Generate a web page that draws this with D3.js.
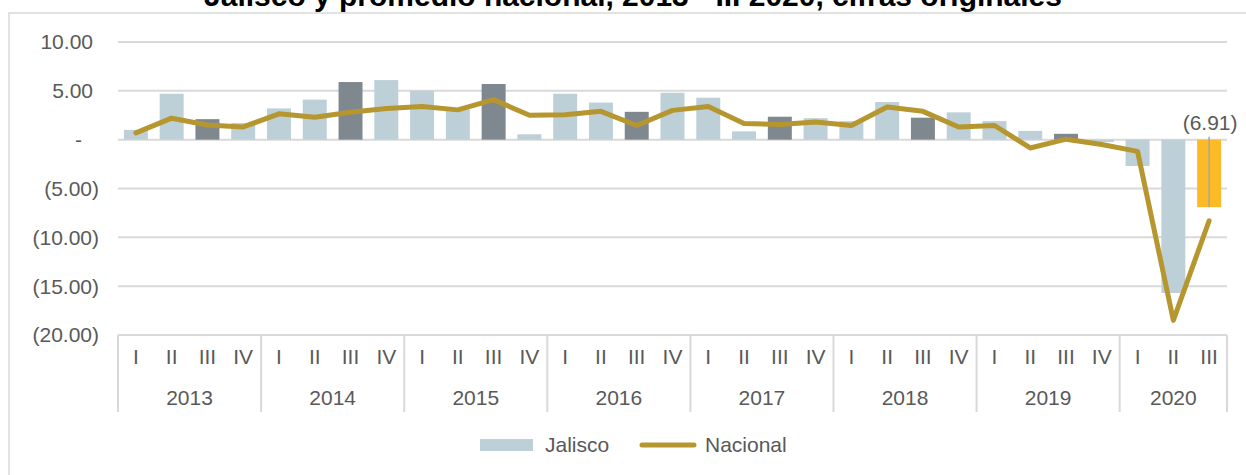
<!DOCTYPE html>
<html>
<head>
<meta charset="utf-8">
<script src="https://cdn.jsdelivr.net/npm/d3@7"></script>
<style>
  body { margin: 0; background: #fff; }
  svg text { font-family: "Liberation Sans", Arial, sans-serif; fill: #595959; }
</style>
</head>
<body>
<div id="chart"></div>
<script>
var titleText = "Jalisco y promedio nacional, 2013 - III 2020, cifras originales";

var years = ["2013", "2014", "2015", "2016", "2017", "2018", "2019", "2020"];
var quarterNames = ["I", "II", "III", "IV"];
// quarters published per year
var quartersPerYear = [4, 4, 4, 4, 4, 4, 4, 3];

var jalisco = [1.0, 4.7, 2.1, 1.7,  3.2, 4.1, 5.9, 6.1,  5.0, 3.1, 5.7, 0.55,
               4.7, 3.8, 2.85, 4.8,  4.3, 0.85, 2.35, 2.2,  1.9, 3.85, 2.25, 2.8,
               1.9, 0.9, 0.6, -0.25,  -2.7, -15.7, -6.91];
var nacional = [0.7, 2.2, 1.5, 1.3,  2.65, 2.3, 2.8, 3.2,  3.4, 3.05, 4.1, 2.5,
                2.55, 2.9, 1.45, 3.0,  3.4, 1.65, 1.55, 1.8,  1.45, 3.35, 2.9, 1.3,
                1.45, -0.85, 0.05, -0.5,  -1.2, -18.5, -8.3];

var yTicks = [-20, -15, -10, -5, 0, 5, 10];
var yTickLabels = ["(20.00)", "(15.00)", "(10.00)", "(5.00)", "-", "5.00", "10.00"];
var lastLabel = "(6.91)";

(function() {
  var width = 1246, height = 475;
  var plot = { left: 118, right: 1227, top: 42, bottom: 335 };
  var fontSize = "21px";

  // one entry per quarter
  var periods = [];
  years.forEach(function(y, yi) {
    for (var q = 0; q < quartersPerYear[yi]; q++) {
      periods.push({ year: y, quarter: quarterNames[q], key: y + "-" + quarterNames[q] });
    }
  });
  periods.forEach(function(p, i) {
    p.jalisco = jalisco[i];
    p.nacional = nacional[i];
  });

  var svg = d3.select("#chart")
    .append("svg")
    .attr("width", width)
    .attr("height", height);

  // outer frame
  svg.append("rect")
    .attr("x", 9).attr("y", 13)
    .attr("width", 1300).attr("height", 500)
    .attr("fill", "none")
    .attr("stroke", "#D9D9D9")
    .attr("stroke-width", 1.5);

  // title (cut at the top, as in the source)
  var title = svg.append("text")
    .attr("x", 633)
    .attr("y", 6)
    .attr("text-anchor", "middle")
    .style("font-weight", "bold")
    .style("font-size", "24px")
    .style("fill", "#000")
    .text(titleText);
  var tw = title.node().getComputedTextLength();
  title.style("font-size", (24 * 858 / tw) + "px");

  var xScale = d3.scaleBand()
    .domain(periods.map(function(d) { return d.key; }))
    .range([plot.left, plot.right])
    .paddingInner(0.33)
    .paddingOuter(0.165);

  var yScale = d3.scaleLinear()
    .domain([-20, 10])
    .range([plot.bottom, plot.top]);

  // gridlines
  svg.append("g")
    .attr("class", "grid")
    .selectAll("line")
    .data(yTicks)
    .enter().append("line")
    .attr("x1", plot.left)
    .attr("x2", plot.right)
    .attr("y1", function(d) { return yScale(d); })
    .attr("y2", function(d) { return yScale(d); })
    .attr("stroke", "#D9D9D9")
    .attr("stroke-width", 2);

  // y labels
  svg.append("g")
    .selectAll("text")
    .data(yTicks)
    .enter().append("text")
    .attr("x", function(d, i) {
      var t = yTickLabels[i];
      if (t.charAt(0) == "(") return 99;
      if (t == "-") return 82;
      return 93;
    })
    .attr("y", function(d) { return yScale(d); })
    .attr("dy", "0.35em")
    .attr("text-anchor", "end")
    .style("font-size", fontSize)
    .text(function(d, i) { return yTickLabels[i]; });

  // bars
  var n = periods.length;
  svg.append("g")
    .selectAll("rect")
    .data(periods)
    .enter().append("rect")
    .attr("x", function(d) { return xScale(d.key); })
    .attr("width", xScale.bandwidth())
    .attr("y", function(d) { return yScale(Math.max(0, d.jalisco)); })
    .attr("height", function(d) { return Math.abs(yScale(d.jalisco) - yScale(0)); })
    .attr("fill", function(d, i) {
      if (i == n - 1) return "#FBBA26";
      if (d.quarter == "III") return "#7F888E";
      return "#BDD0D7";
    });

  // label on the last bar
  var last = periods[n - 1];
  var lx = xScale(last.key) + xScale.bandwidth() / 2;
  svg.append("line")
    .attr("x1", lx).attr("x2", lx)
    .attr("y1", yScale(0) - 3)
    .attr("y2", yScale(last.jalisco))
    .attr("stroke", "#A6A6A6")
    .attr("stroke-width", 1.5);
  svg.append("text")
    .attr("x", lx + 1)
    .attr("y", yScale(0) - 10)
    .attr("text-anchor", "middle")
    .style("font-size", fontSize)
    .text(lastLabel);

  // national line
  var line = d3.line()
    .x(function(d) { return xScale(d.key) + xScale.bandwidth() / 2; })
    .y(function(d) { return yScale(d.nacional); });

  svg.append("path")
    .datum(periods)
    .attr("d", line)
    .attr("fill", "none")
    .attr("stroke", "#B5962F")
    .attr("stroke-width", 5)
    .attr("stroke-linejoin", "round")
    .attr("stroke-linecap", "round");

  // category axis: quarters and years
  var step = xScale.step();
  var axisG = svg.append("g").attr("class", "x-axis");

  axisG.selectAll("text.q")
    .data(periods)
    .enter().append("text")
    .attr("class", "q")
    .attr("x", function(d) { return xScale(d.key) + xScale.bandwidth() / 2; })
    .attr("y", 357)
    .attr("dy", "0.35em")
    .attr("text-anchor", "middle")
    .style("font-size", fontSize)
    .text(function(d) { return d.quarter; });

  var start = 0;
  var yearBlocks = years.map(function(y, yi) {
    var b = { year: y, x0: plot.left + start * step, x1: plot.left + (start + quartersPerYear[yi]) * step };
    start += quartersPerYear[yi];
    return b;
  });

  axisG.selectAll("text.y")
    .data(yearBlocks)
    .enter().append("text")
    .attr("class", "y")
    .attr("x", function(d) { return (d.x0 + d.x1) / 2; })
    .attr("y", 398)
    .attr("dy", "0.35em")
    .attr("text-anchor", "middle")
    .style("font-size", fontSize)
    .text(function(d) { return d.year; });

  var seps = yearBlocks.map(function(d) { return d.x0; }).concat([plot.right]);
  axisG.selectAll("line")
    .data(seps)
    .enter().append("line")
    .attr("x1", function(d) { return d; })
    .attr("x2", function(d) { return d; })
    .attr("y1", plot.bottom)
    .attr("y2", 412)
    .attr("stroke", "#D9D9D9")
    .attr("stroke-width", 2);

  // legend
  var legend = svg.append("g").attr("class", "legend");
  legend.append("rect")
    .attr("x", 480).attr("y", 439)
    .attr("width", 53).attr("height", 12)
    .attr("fill", "#BDD0D7");
  legend.append("text")
    .attr("x", 545).attr("y", 445)
    .attr("dy", "0.35em")
    .style("font-size", fontSize)
    .text("Jalisco");
  legend.append("line")
    .attr("x1", 642).attr("x2", 694)
    .attr("y1", 445).attr("y2", 445)
    .attr("stroke", "#B5962F")
    .attr("stroke-width", 5)
    .attr("stroke-linecap", "round");
  legend.append("text")
    .attr("x", 705).attr("y", 445)
    .attr("dy", "0.35em")
    .style("font-size", fontSize)
    .text("Nacional");
})();
</script>
</body>
</html>
